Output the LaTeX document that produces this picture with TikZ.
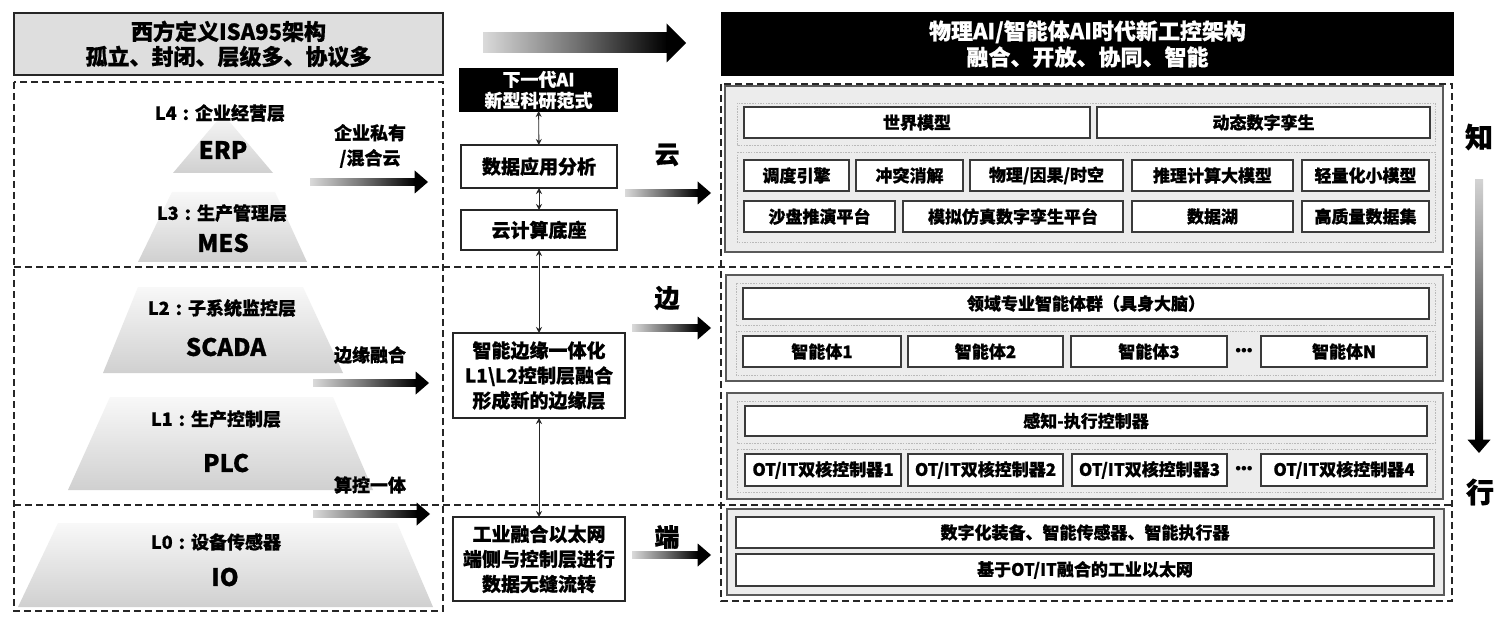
\documentclass[tikz,border=0pt]{standalone}
\usepackage{fontspec}
\setmainfont{Noto Sans CJK SC}[BoldFeatures={FakeBold=0.7}]
\newfontfamily\dotfont{DejaVu Sans}
\usetikzlibrary{arrows.meta,calc}
\definecolor{hdrgray}{HTML}{DEDEDE}
\definecolor{panelfill}{HTML}{ECECEC}
\definecolor{panelbd}{HTML}{5A5A5A}
\definecolor{boxbd}{HTML}{3A3A3A}
\definecolor{pyrtop}{HTML}{F8F8F8}
\definecolor{pyrbot}{HTML}{D0D0D0}
\definecolor{arrlight}{HTML}{DADADA}

\newcommand\rbox[7][]{\node[box,#1,minimum width={(#5)-(#3)},minimum height={(#6)-(#4)}] (#2) at ({((#3)+(#5))/2},{((#4)+(#6))/2}) {#7};}
\newcommand\garrow[5]{%
  \shade[left color=arrlight, right color=black, middle color=black!55] let \p1=(#1),\p2=(#2) in (\x1,{\y1-#3pt}) rectangle ({\x2-#5pt},{\y1+#3pt});
  \fill[black] let \p1=(#1),\p2=(#2) in ({\x2-#5pt-0.3pt},{\y1-#4pt}) -- (\x2,\y1) -- ({\x2-#5pt-0.3pt},{\y1+#4pt}) -- cycle;}
\newcommand\lvcolon{\hspace{6pt}:\hspace{6pt}}

\tikzset{
  box/.style={draw=boxbd, line width=1.1pt, fill=white, inner sep=0pt, outer sep=0pt, align=center,
              font=\bfseries\fontsize{17}{21}\selectfont},
  hdrL/.style={fill=hdrgray, draw=black!85, line width=1.1pt, font=\bfseries\fontsize{22}{25}\selectfont},
  hdrR/.style={fill=black, draw=black, text=white, font=\bfseries\fontsize{22}{26}\selectfont},
  midbox/.style={draw=black!85, line width=1.1pt, font=\bfseries\fontsize{19}{25}\selectfont},
  aibox/.style={fill=black, draw=black, text=white, font=\bfseries\fontsize{18}{21}\selectfont},
  dashbox/.style={draw=black!85, line width=1.3pt, dash pattern=on 7pt off 4pt},
  dotbox/.style={draw=gray!55, line width=0.7pt, dash pattern=on 1.5pt off 1.2pt},
  panel/.style={draw=panelbd, line width=1.6pt, fill=panelfill},
  lvl/.style={font=\bfseries\fontsize{18}{22}\selectfont, inner sep=0pt},
  lvlname/.style={font=\bfseries\fontsize{24}{28}\selectfont, inner sep=0pt},
  side/.style={font=\bfseries\fontsize{18}{25}\selectfont, align=center, inner sep=0pt},
  big/.style={font=\bfseries\fontsize{25}{28}\selectfont, inner sep=0pt},
  huge/.style={font=\bfseries\fontsize{28}{30}\selectfont, inner sep=0pt},
  dots/.style={font=\dotfont\bfseries\fontsize{13}{13}\selectfont, inner sep=0pt},
  dbl/.style={{Stealth[length=6pt,width=6pt]}-{Stealth[length=6pt,width=6pt]}, line width=0.9pt, black!85},
}

\begin{document}
\begin{tikzpicture}[x=1pt,y=-1pt]
\useasboundingbox (0,0) rectangle (1506,620);
\fill[white] (0,0) rectangle (1506,620);

% ---------- headers ----------
\rbox[hdrL]{hdrL}{14}{13}{443}{75}{西方定义ISA95架构\\孤立、封闭、层级多、协议多}
\rbox[hdrR]{hdrR}{722}{13}{1453}{75}{物理AI/智能体AI时代新工控架构\\融合、开放、协同、智能}
\coordinate (topA1) at (483,43);
\coordinate (topA2) at (686,43);
\garrow{topA1}{topA2}{10}{19.5}{19}

% ---------- dashed frames ----------
\draw[dashbox] (14,82) rectangle (443,611);
\draw[dashbox] (721,84) rectangle (1452,601);
\draw[dashbox] (14,267) -- (1452,267);
\draw[dashbox] (14,505) -- (1452,505);

% ---------- pyramid ----------
\shade[top color=pyrtop, bottom color=pyrbot] (223,114) -- (273,173) -- (173,173) -- cycle;
\shade[top color=pyrtop, bottom color=pyrbot] (172,192) -- (275,192) -- (307,262) -- (138,262) -- cycle;
\shade[top color=pyrtop, bottom color=pyrbot] (138,287) -- (303,287) -- (343,373) -- (103,373) -- cycle;
\shade[top color=pyrtop, bottom color=pyrbot] (110,397) -- (333,397) -- (373,490) -- (68,490) -- cycle;
\shade[top color=pyrtop, bottom color=pyrbot] (58,523) -- (397,523) -- (433,607) -- (18,607) -- cycle;

\node[lvl] (l4) at (220,113) {L4\lvcolon 企业经营层};
\node[lvlname] (erp) at (223,150) {ERP};
\node[lvl] (l3) at (222,213) {L3\lvcolon 生产管理层};
\node[lvlname] (mes) at (223,243) {MES};
\node[lvl] (l2) at (222,308) {L2\lvcolon 子系统监控层};
\node[lvlname] (scada) at (226,347) {SCADA};
\node[lvl] (l1) at (216,419) {L1\lvcolon 生产控制层};
\node[lvlname] (plc) at (226,463) {PLC};
\node[lvl] (l0) at (216,542) {L0\lvcolon 设备传感器};
\node[lvlname] (io) at (225,577) {IO};

% ---------- left side arrows ----------
\node[side] (sCloud) at (370,146) {企业私有\\/混合云};
\node[side] (sEdge) at (370,355) {边缘融合};
\node[side] (sCtrl) at (370,485) {算控一体};
\coordinate (la1) at (310,182); \coordinate (la2) at (428,182);
\coordinate (lb1) at (313,383); \coordinate (lb2) at (429,383);
\coordinate (lc1) at (313,514); \coordinate (lc2) at (430,514);
\garrow{la1}{la2}{3.5}{11.5}{13}
\garrow{lb1}{lb2}{3.5}{11.5}{13}
\garrow{lc1}{lc2}{3.5}{11.5}{13}

% ---------- middle column ----------
\rbox[aibox]{ai}{460}{69}{617}{111}{下一代AI\\新型科研范式}
\rbox[midbox]{data}{461}{145}{617}{188}{数据应用分析}
\rbox[midbox]{cbase}{461}{210}{617}{250}{云计算底座}
\rbox[midbox]{edgebox}{453}{333}{625}{418}{智能边缘一体化\\L1{\textbackslash}L2控制层融合\\形成新的边缘层}
\rbox[midbox]{netbox}{453}{517}{625}{601}{工业融合以太网\\端侧与控制层进行\\数据无缝流转}
\draw[dbl] (ai) -- (data);
\draw[dbl] (data) -- (cbase);
\draw[dbl] (cbase) -- (edgebox);
\draw[dbl] (edgebox) -- (netbox);

\node[big] (yun) at (667,155) {云};
\node[big] (bian) at (667,298) {边};
\node[big] (duan) at (667,537) {端};
\coordinate (ma1) at (625,193); \coordinate (ma2) at (711,193);
\coordinate (mb1) at (632,328); \coordinate (mb2) at (711,328);
\coordinate (mc1) at (632,555); \coordinate (mc2) at (711,555);
\garrow{ma1}{ma2}{3.5}{11.5}{13}
\garrow{mb1}{mb2}{3.5}{11.5}{13}
\garrow{mc1}{mc2}{3.5}{11.5}{13}

% ---------- cloud panel ----------
\draw[panel] (725,86) rectangle (1443,252);
\draw[dotbox] (737,103) rectangle (1435,145);
\draw[dotbox] (737,152) rectangle (1435,242);
\rbox{wm}{744}{107}{1090}{138}{世界模型}
\rbox{dt}{1097}{107}{1430}{138}{动态数字孪生}
\rbox{c1}{744}{160}{849}{191}{调度引擎}
\rbox{c2}{856}{160}{963}{191}{冲突消解}
\rbox{c3}{970}{160}{1123}{191}{物理/因果/时空}
\rbox{c4}{1132}{160}{1293}{191}{推理计算大模型}
\rbox{c5}{1302}{160}{1429}{191}{轻量化小模型}
\rbox{d1}{744}{201}{895}{232}{沙盘推演平台}
\rbox{d2}{903}{201}{1123}{232}{模拟仿真数字孪生平台}
\rbox{d3}{1132}{201}{1293}{232}{数据湖}
\rbox{d4}{1302}{201}{1429}{232}{高质量数据集}

% ---------- edge panel ----------
\draw[panel] (726,275) rectangle (1443,381);
\draw[dotbox] (736,283) rectangle (1435,325);
\draw[dotbox] (736,331) rectangle (1435,375);
\rbox{brain}{743}{288}{1429}{319}{领域专业智能体群（具身大脑）}
\rbox{ag1}{743}{336}{901}{367}{智能体1}
\rbox{ag2}{908}{336}{1063}{367}{智能体2}
\rbox{ag3}{1071}{336}{1227}{367}{智能体3}
\node[dots] (agdots) at (1244,352) {•\kern-2.5pt•\kern-2.5pt•};
\rbox{agN}{1261}{336}{1427}{367}{智能体N}

% ---------- sense/act panel ----------
\draw[panel] (727,393) rectangle (1443,499);
\draw[dotbox] (737,401) rectangle (1435,443);
\draw[dotbox] (737,449) rectangle (1435,492);
\rbox{sense}{745}{406}{1427}{436}{感知-执行控制器}
\rbox{ot1}{745}{454}{901}{486}{OT/IT双核控制器1}
\rbox{ot2}{908}{454}{1063}{486}{OT/IT双核控制器2}
\rbox{ot3}{1072}{454}{1227}{486}{OT/IT双核控制器3}
\node[dots] (otdots) at (1244,470) {•\kern-2.5pt•\kern-2.5pt•};
\rbox{ot4}{1261}{454}{1427}{486}{OT/IT双核控制器4}

% ---------- device panel ----------
\draw[panel] (727,509) rectangle (1444,595);
\rbox{dev}{736}{517}{1434}{548}{数字化装备、智能传感器、智能执行器}
\rbox{eth}{736}{554}{1434}{586}{基于OT/IT融合的工业以太网}

% ---------- know / act ----------
\node[huge] (zhi) at (1479,137) {知};
\node[huge] (xing) at (1480,492) {行};
\coordinate (va1) at (1479,180);
\coordinate (va2) at (1479,453);
\shade[top color=gray!35, bottom color=black] let \p1=(va1),\p2=(va2) in ({\x1-4pt},\y1) rectangle ({\x1+4pt},{\y2+13pt});
\fill[black] let \p1=(va1),\p2=(va2) in ({\x1-11.5pt},{\y2+13.3pt}) -- (\x2,\y2) -- ({\x1+11.5pt},{\y2+13.3pt}) -- cycle;
\end{tikzpicture}
\end{document}
